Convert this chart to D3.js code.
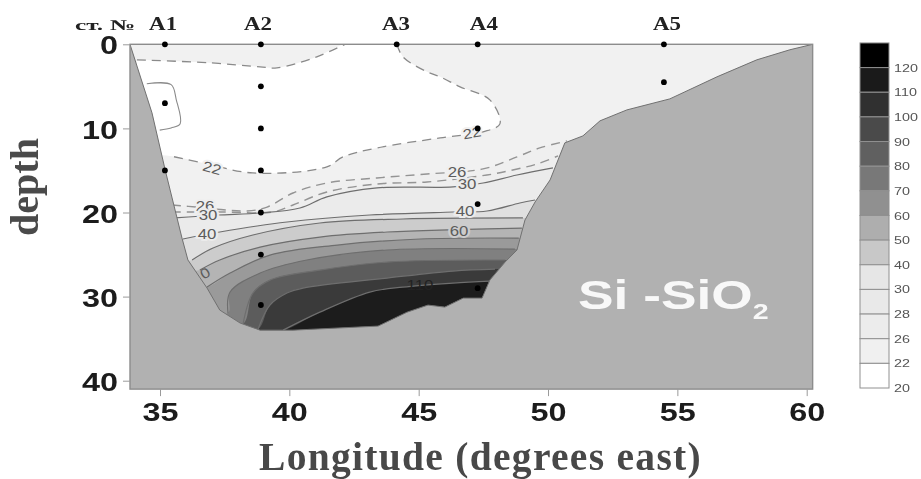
<!DOCTYPE html>
<html><head><meta charset="utf-8">
<script src="https://cdn.jsdelivr.net/npm/d3@7"></script>
<style>html,body{margin:0;padding:0;background:#fff}svg{display:block;filter:blur(0.6px)}</style>
</head><body><svg id="c" width="921" height="479"></svg>
<script>
const xTicks=[35,40,45,50,55,60], yTicks=[0,10,20,30,40];
const seabed=[[33.84,0],[34.69,8.15],[35.2,14.94],[35.85,23.04],[36.08,25.65],[36.82,28.99],[37.31,31.6],[38.1,33.15],[38.87,33.99],[40.14,33.99],[43.43,33.51],[44.55,31.85],[45.36,31.01],[46.01,31.25],[46.72,30.18],[47.45,30.18],[47.75,28.04],[48.34,25.89],[48.8,24.46],[49.11,20.89],[49.5,18.75],[50.08,16.13],[50.65,11.72],[51.35,10.89],[52.01,9.1],[53.05,7.8],[54.71,6.49],[56.53,3.87],[58.07,1.85],[59.35,0.65],[60.23,0]];
const c22top=[[34.11,1.85],[36.93,2.2],[38.87,2.68],[39.52,2.8],[41.06,1.49],[42.15,0]];
const c22main=[[44.16,0],[44.39,1.49],[45.32,3.27],[45.83,3.87],[46.6,5.06],[47.75,6.61],[48.14,9.46],[47.49,10.4],[45.83,11.13],[43.39,12.32],[42.07,13.39],[41.45,14.58],[38.59,15.3],[36.66,14.1],[35.39,13.27]];
const c20=[[34.49,4.7],[35.43,4.8],[35.63,6.6],[35.78,9.45],[35.43,9.95],[34.99,10.2]];
const c26=[[35.46,19.11],[36.43,19.35],[38.36,19.82],[39.14,19.35],[40.14,17.68],[41.45,16.49],[43.39,15.89],[45.32,15.42],[47.49,14.82],[48.8,13.39],[49.68,12.32],[50.73,11.49]];
const c28=[[35.46,19.94],[37.31,19.94],[39.37,19.94],[40.14,19.11],[41.45,17.56],[43.39,16.61],[45.32,16.37],[47.64,15.54],[48.64,14.94],[49.57,14.23],[50.39,13.27]];
const c30=[[35.58,20.65],[37.21,20.3],[38.87,20.06],[40.41,19.46],[41.45,18.15],[43.39,17.08],[46.33,16.96],[47.49,16.49],[48.8,15.54],[50.19,14.7]];
const c40=[[35.89,23.15],[37.31,22.32],[39.91,21.13],[43.11,20.3],[46.33,19.94],[47.64,19.82],[48.91,18.87],[49.5,18.51]];
const c50=[[36.24,25.65],[37.05,24.23],[38.59,22.68],[41.18,21.25],[44.39,20.77],[49.03,20.65]];
const c60=[[36.54,26.85],[37.31,25.65],[38.87,24.11],[41.18,22.92],[43.78,22.32],[48.99,21.85]];
const c70=[[36.82,28.87],[37.71,27.2],[39.25,25.06],[41.85,23.87],[45.05,23.15],[48.87,23.04]];
const c80=[[37.63,31.96],[37.71,29.46],[38.87,27.2],[40.68,25.65],[43.78,24.46],[48.72,24.35]];
const c90=[[38.21,33.27],[38.59,29.58],[39.25,28.04],[41.18,26.85],[43.78,25.89],[48.34,25.65]];
const c100=[[38.79,33.87],[39.25,31.01],[39.91,29.58],[40.53,28.99],[43.78,27.8],[46.33,26.96],[47.95,26.73]];
const c110=[[39.76,33.99],[41.18,31.85],[43.11,29.46],[44.39,28.87],[46.33,28.39],[47.75,28.15]];
const stationNames=["A1","A2","A3","A4","A5"];
const stationLon=[35.19,38.9,44.15,47.28,54.48];
const stationLabelLon=[35.12,38.79,44.12,47.52,54.6];
const stationDepths=[[0,7,15],[0,5,10,15,20,25,31],[0],[0,10,19,29],[0,4.5]];
const legendLabels=["120","110","100","90","80","70","60","50","40","30","28","26","22","20"];
const contourLabelText=["22","22","26","30","40","26","30","40","60","0","110"];
const contourLabelLon=[37.01,47.06,36.74,36.86,36.82,46.48,46.87,46.79,46.56,36.74,45.05];
const contourLabelDepth=[14.7,10.54,19.23,20.3,22.56,15.18,16.61,19.82,22.2,27.2,28.63];

const legendColors=["#000000","#1a1a1a","#303030","#4a4a4a","#606060","#787878","#909090","#aeaeae","#c8c8c8","#e6e6e6","#e9e9e9","#ececec","#f0f0f0","#ffffff"];
const bands=[c26,c28,c30,c40,c50,c60,c70,c80,c90,c100,c110];
const bandColors=["#efefef","#eeeeee","#ebebeb","#e0e0e0","#cccccc","#b4b4b4","#9a9a9a","#808080","#5c5c5c","#3a3a3a","#1c1c1c"];
const dashedBand=[true,true,false,false,false,false,false,false,false,false,false];
const labelRot=[15,-10,0,0,0,0,0,0,0,-30,0];
const labelHalo=["#f1f1f1","#f1f1f1","#efefef","#ebebeb","#ebebeb","#efefef","#ebebeb","#ebebeb","#cccccc",null,null];

const svg=d3.select("#c");
const x=d3.scaleLinear().domain([35,60]).range([160,806.7]);
const y=d3.scaleLinear().domain([0,40]).range([44.3,380.7]);
const xL=x(33.84),xR=x(60.23),yT=y(0),yB=y(41);
svg.append("defs").append("clipPath").attr("id","plot").append("rect").attr("x",xL).attr("y",yT).attr("width",xR-xL).attr("height",yB-yT);
const g=svg.append("g").attr("clip-path","url(#plot)");
g.append("rect").attr("x",xL).attr("y",yT).attr("width",xR-xL).attr("height",yB-yT).attr("fill","#f1f1f1");
const curve=d3.curveCatmullRom.alpha(0.5);
const line=d3.line().x(d=>x(d[0])).y(d=>y(d[1])).curve(curve);
const straight=d3.line().x(d=>x(d[0])).y(d=>y(d[1]));
g.append("path").attr("d",line(c22top.concat(c22main,[[33.9,13.27]]))+"Z").attr("fill","#fff");
const area=d3.area().x(d=>x(d[0])).y0(d=>y(d[1])).y1(yB).curve(curve);
bands.forEach((pts,i)=>{
  const f=pts[0],l=pts[pts.length-1];
  g.append("path").attr("d",area([[f[0]-1,f[1]],...pts,[l[0]+1.5,l[1]]])).attr("fill",bandColors[i]);
});
[c22top,c22main].forEach(p=>g.append("path").attr("d",line(p)).attr("fill","none").attr("stroke","#8a8a8a").attr("stroke-width",1.3).attr("stroke-dasharray","9 6"));
g.append("path").attr("d",line(c20)).attr("fill","none").attr("stroke","#8a8a8a").attr("stroke-width",1.1);
bands.forEach((pts,i)=>{
  const p=g.append("path").attr("d",line(pts)).attr("fill","none").attr("stroke",dashedBand[i]?"#949494":"#6e6e6e").attr("stroke-width",dashedBand[i]?1.4:1.2);
  if(dashedBand[i])p.attr("stroke-dasharray","9 6");
});
contourLabelText.forEach((t,i)=>{
  g.append("text").attr("transform",`translate(${x(contourLabelLon[i])},${y(contourLabelDepth[i])}) rotate(${labelRot[i]}) scale(1.2,1)`)
   .attr("text-anchor","middle").attr("dy","0.35em").attr("font-family","Liberation Sans").attr("font-size",14)
   .attr("fill",t==="110"?"#222":"#5c5c5c")
   .attr("stroke",labelHalo[i]||"none").attr("stroke-width",labelHalo[i]?4:0).attr("paint-order","stroke").text(t);
});
g.append("path").attr("d",straight(seabed.concat([[60.23,41],[33.84,41]]))+"Z").attr("fill","#b1b1b1");
g.append("path").attr("d",straight(seabed)).attr("fill","none").attr("stroke","#707070").attr("stroke-width",1);
svg.append("rect").attr("x",xL).attr("y",yT).attr("width",xR-xL).attr("height",yB-yT).attr("fill","none").attr("stroke","#8c8c8c").attr("stroke-width",1.4);
stationLon.forEach((lon,i)=>{
  svg.selectAll(null).data(stationDepths[i]).join("circle").attr("cx",x(lon)).attr("cy",d=>y(d)).attr("r",2.9).attr("fill","#000");
  svg.append("text").attr("x",x(stationLabelLon[i])).attr("y",30).attr("text-anchor","middle").attr("font-family","Liberation Serif").attr("font-weight","bold").attr("font-size",19).attr("fill","#222").attr("textLength",28).attr("lengthAdjust","spacingAndGlyphs").text(stationNames[i]);
});
svg.append("text").attr("x",75).attr("y",30).attr("font-family","Liberation Serif").attr("font-weight","bold").attr("font-size",15).attr("fill","#222").attr("textLength",60).attr("lengthAdjust","spacingAndGlyphs").text("ст. №");
const sx=1.27;
const ax=svg.append("g").attr("transform",`translate(0,${yB})`).call(d3.axisBottom(x).tickValues(xTicks).tickSize(7).tickPadding(7).tickFormat(d3.format("d")));
ax.select(".domain").remove();
ax.selectAll("line").attr("stroke","#9a9a9a");
ax.selectAll("text").attr("font-family","Liberation Sans").attr("font-weight","bold").attr("font-size",25.5).attr("fill","#1c1c1c").attr("transform",`scale(${sx},1)`);
const ay=svg.append("g").attr("transform",`translate(${xL},0)`).call(d3.axisLeft(y).tickValues(yTicks).tickSize(7).tickPadding(5).tickFormat(d3.format("d")));
ay.select(".domain").remove();
ay.selectAll("line").attr("stroke","#9a9a9a");
ay.selectAll("text").attr("font-family","Liberation Sans").attr("font-weight","bold").attr("font-size",25.5).attr("fill","#1c1c1c").attr("x",-12/sx).attr("dy","0.38em").attr("transform",`scale(${sx},1)`);
svg.append("text").attr("transform","translate(38,187) rotate(-90)").attr("text-anchor","middle").attr("font-family","Liberation Serif").attr("font-weight","bold").attr("font-size",40).attr("fill","#4a4a4a").text("depth");
svg.append("text").attr("x",259).attr("y",470).attr("font-family","Liberation Serif").attr("font-weight","bold").attr("font-size",39.5).attr("letter-spacing",1.3).attr("fill","#484848").text("Longitude (degrees east)");
const si=svg.append("text").attr("transform","translate(578,309) scale(1.3,1)").attr("font-family","Liberation Sans").attr("font-weight","bold").attr("font-size",41).attr("fill","#f8f8f8");
si.append("tspan").text("Si -SiO");
si.append("tspan").attr("dy",10).attr("font-size",22).text("2");
const ly=d3.scalePoint().domain(legendLabels).range([67.6,388]);
const h=ly.step();
svg.selectAll("rect.lg").data(legendLabels).join("rect").attr("class","lg").attr("x",860).attr("width",29).attr("y",d=>ly(d)-h).attr("height",h).attr("fill",(d,i)=>legendColors[i]).attr("stroke","#909090").attr("stroke-width",1);
svg.selectAll("text.lg").data(legendLabels).join("text").attr("class","lg").attr("transform",d=>`translate(894,${ly(d)}) scale(1.25,1)`).attr("dy","0.35em").attr("font-family","Liberation Sans").attr("font-size",11.5).attr("fill","#555").text(d=>d);
</script></body></html>
